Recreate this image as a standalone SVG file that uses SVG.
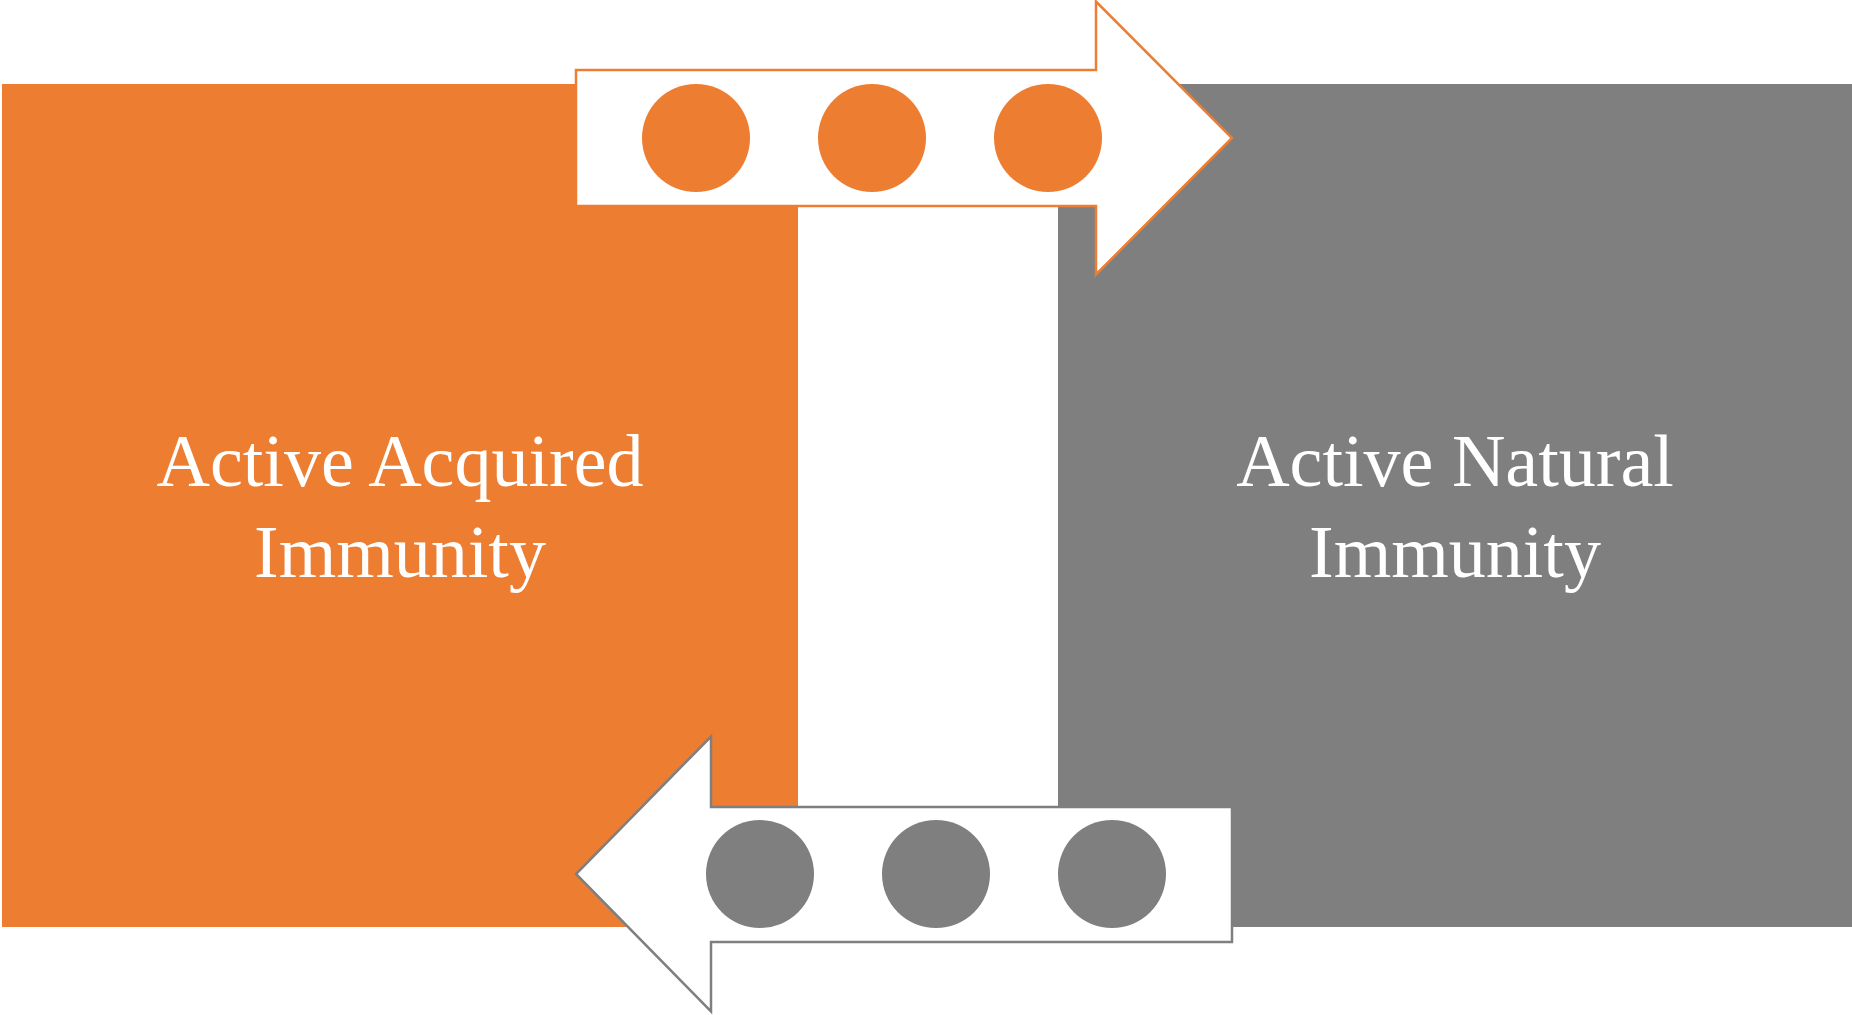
<svg xmlns="http://www.w3.org/2000/svg" width="1852" height="1015" viewBox="0 0 1852 1015">
<style>
.lbl{font-family:"Liberation Serif","Times New Roman",serif;font-size:74px;fill:#FFFFFF;text-anchor:middle}
.dotO{fill:#ED7D31}
.dotG{fill:#7F7F7F}
</style>
<rect width="1852" height="1015" fill="#FFFFFF"/>
<g id="acquired">
<rect x="2" y="84" width="796" height="843" fill="#ED7D31"/>
<text class="lbl" x="400" y="486">Active Acquired</text>
<text class="lbl" x="400" y="577">Immunity</text>
</g>
<g id="natural">
<rect x="1058" y="84" width="794" height="843" fill="#7F7F7F"/>
<text class="lbl" x="1455" y="486">Active Natural</text>
<text class="lbl" x="1455" y="577">Immunity</text>
</g>
<g id="connectors">
<g id="arrow-right">
<polygon points="576,70 1096,70 1096,1.5 1232,138 1096,274.5 1096,206 576,206" fill="#FFFFFF" stroke="#ED7D31" stroke-width="2.5"/>
<circle class="dotO" cx="696" cy="138" r="54"/>
<circle class="dotO" cx="872" cy="138" r="54"/>
<circle class="dotO" cx="1048" cy="138" r="54"/>
</g>
<g id="arrow-left">
<polygon points="1232,807 711,807 711,736.5 576,874 711,1011.5 711,942 1232,942" fill="#FFFFFF" stroke="#7F7F7F" stroke-width="2.5"/>
<circle class="dotG" cx="760" cy="874" r="54"/>
<circle class="dotG" cx="936" cy="874" r="54"/>
<circle class="dotG" cx="1112" cy="874" r="54"/>
</g>
</g>
</svg>
